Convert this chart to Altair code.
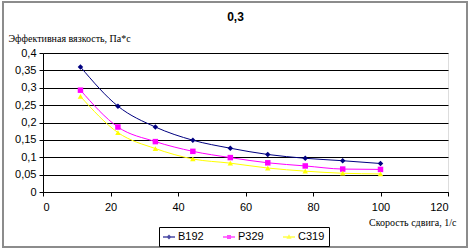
import altair as alt
import pandas as pd

shear = [11.1, 22.2, 33.3, 44.4, 55.5, 66.6, 77.7, 88.8, 100]
b192 = [0.360, 0.247, 0.187, 0.149, 0.126, 0.108, 0.097, 0.090, 0.082]
p329 = [0.293, 0.187, 0.145, 0.117, 0.099, 0.084, 0.075, 0.066, 0.065]
c319 = [0.275, 0.171, 0.125, 0.095, 0.083, 0.069, 0.060, 0.054, 0.052]
series_names = ["B192", "P329", "C319"]
colors = ["#000080", "#FF00FF", "#FFFF00"]
shapes = ["diamond", "square", "triangle-up"]
y_ticks = [0, 0.05, 0.1, 0.15, 0.2, 0.25, 0.3, 0.35, 0.4]
x_ticks = [0, 20, 40, 60, 80, 100, 120]
legend_paths = [
    "M-1.2,0H1.2M-0.3,0L0,-0.3L0.3,0L0,0.3ZM-0.15,0H0.15M0,-0.15V0.15",
    "M-1.2,0H1.2M-0.27,-0.27H0.27V0.27H-0.27ZM-0.12,-0.12H0.12V0.12H-0.12Z",
    "M-1.2,0H1.2M0,-0.3L0.3,0.24H-0.3ZM0,-0.1L0.12,0.14H-0.12Z",
]

rows = []
for name, vals in zip(series_names, [b192, p329, c319]):
    for x, v in zip(shear, vals):
        rows.append({"shear": x, "visc": v, "series": name})
df = pd.DataFrame(rows)

font = "Liberation Sans"
serif = "Liberation Serif"

x_enc = alt.X("shear:Q", scale=alt.Scale(domain=[0, 120], nice=False),
              axis=alt.Axis(values=x_ticks, title="Скорость сдвига, 1/с",
                            titleX=413, titleY=33, titleAlign="right", titleBaseline="alphabetic",
                            titleFont=serif, titleFontSize=10, titleFontWeight="normal",
                            labelFont=font, labelFontSize=11, labelColor="#000",
                            labelPadding=5, tickSize=4, tickColor="#000", domainColor="#000",
                            labelOverlap=False, grid=False))
y_enc = alt.Y("visc:Q", scale=alt.Scale(domain=[0, 0.4], nice=False),
              axis=alt.Axis(values=y_ticks,
                            labelExpr="replace(format(datum.value, '.2~f'), '.', ',')",
                            title="Эффективная вязкость, Па*с", titleAngle=0,
                            titleX=-35, titleY=-12, titleAlign="left", titleBaseline="alphabetic",
                            titleFont=serif, titleFontSize=10, titleFontWeight="normal",
                            labelFont=font, labelFontSize=11, labelColor="#000",
                            labelPadding=3, tickSize=4, tickColor="#000", domainColor="#000",
                            labelOverlap=False, grid=True, gridColor="#000", gridWidth=1))

cscale = alt.Scale(domain=series_names, range=colors)

lines = alt.Chart(df).mark_line(interpolate="monotone", strokeWidth=1).encode(
    x=x_enc, y=y_enc,
    color=alt.Color("series:N", scale=cscale, legend=None),
    detail="series:N",
)
points = alt.Chart(df).mark_point(filled=True, size=30, opacity=1).encode(
    x=x_enc, y=y_enc,
    color=alt.Color("series:N", scale=cscale, legend=None),
    shape=alt.Shape("series:N", scale=alt.Scale(domain=series_names, range=shapes), legend=None),
)
leg = alt.Chart(df).mark_point(size=0, filled=False, strokeWidth=1.3).encode(
    x=x_enc, y=y_enc,
    stroke=alt.Stroke("series:N", scale=cscale, title=None,
                      legend=alt.Legend(orient="none", legendX=116, legendY=174,
                                        direction="horizontal", strokeColor="#000",
                                        padding=4, symbolSize=100, symbolStrokeWidth=1.3,
                                        labelFont=font, labelFontSize=11, labelColor="#000",
                                        columnPadding=16, symbolOffset=0, labelOffset=3)),
    shape=alt.Shape("series:N", scale=alt.Scale(domain=series_names, range=legend_paths), title=None),
)

frame = alt.Chart(alt.Data(values=[{"a": 1}])).mark_rect(
    fill=None, stroke="#8c8c8c", strokeWidth=2
).encode(x=alt.value(-40), x2=alt.value(424), y=alt.value(-51), y2=alt.value(194))

chart = alt.layer(frame, lines, points, leg).resolve_scale(
    shape="independent", color="independent", stroke="independent"
).properties(
    width=405, height=139,
    title=alt.TitleParams("0,3", font=font, fontSize=12, fontWeight="bold", color="#000",
                          anchor="middle", offset=0, dy=23, dx=-10),
    autosize=alt.AutoSizeParams(type="none"),
    padding={"left": 43, "top": 53, "right": 25, "bottom": 60},
).configure_view(stroke="#808080", strokeWidth=1).configure(background="white")

chart.save("out.html", embed_options={"renderer": "svg", "actions": False})
